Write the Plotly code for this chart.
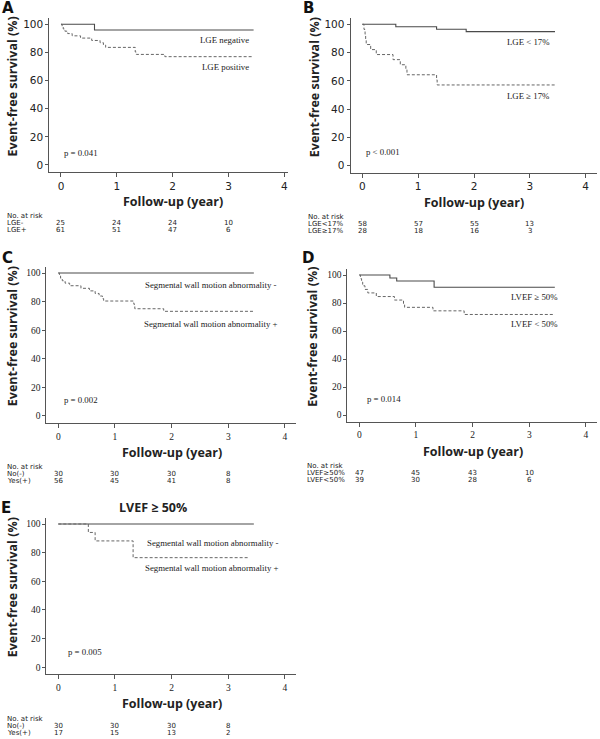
import plotly.graph_objects as go

W, H = 600, 739

# ---------------- data ----------------
years = [0, 1, 2, 3, 4]
yvals = [0, 20, 40, 60, 80, 100]

A_neg_t = [0, 0.6, 3.45]
A_neg_s = [100, 96, 96]
A_pos_t = [0, 0.02, 0.04, 0.07, 0.12, 0.2, 0.35, 0.55, 0.7, 0.76, 0.8, 1.33, 1.35, 1.86, 3.45]
A_pos_s = [100, 98.4, 96.7, 95.1, 93.4, 91.8, 90.2, 88.5, 86.9, 85.2, 83.6, 80.3, 78.6, 77.0, 77.0]

B_lo_t = [0, 0.6, 1.33, 1.86, 3.45]
B_lo_s = [100, 98.3, 96.5, 94.8, 94.8]
B_hi_t = [0, 0.03, 0.05, 0.06, 0.07, 0.15, 0.25, 0.55, 0.68, 0.78, 0.8, 1.33, 1.34, 3.45]
B_hi_s = [100, 96.4, 92.9, 89.3, 85.7, 82.1, 78.6, 75.0, 71.4, 67.9, 64.3, 60.7, 57.1, 57.1]

C_neg_t = [0, 3.45]
C_neg_s = [100, 100]
C_pos_t = [0, 0.02, 0.04, 0.07, 0.12, 0.2, 0.4, 0.55, 0.65, 0.72, 0.78, 0.8, 1.33, 1.34, 1.35, 1.86, 3.45]
C_pos_s = [100, 98.2, 96.4, 94.6, 92.9, 91.1, 89.3, 87.5, 85.7, 83.9, 82.1, 80.4, 78.6, 76.8, 75.0, 73.2, 73.2]

D_hi_t = [0, 0.54, 0.66, 1.32, 3.45]
D_hi_s = [100, 97.9, 95.7, 91.3, 91.3]
D_lo_t = [0, 0.02, 0.04, 0.06, 0.1, 0.15, 0.3, 0.62, 0.78, 0.8, 1.3, 1.85, 3.45]
D_lo_s = [100, 97.4, 94.9, 92.3, 89.7, 87.2, 84.6, 82.1, 79.5, 76.9, 74.4, 71.8, 71.8]

E_neg_t = [0, 3.45]
E_neg_s = [100, 100]
E_pos_t = [0, 0.53, 0.65, 1.32, 3.35]
E_pos_s = [100, 94.1, 88.2, 76.5, 76.5]

A_risk_labels = ["LGE-", "LGE+"]
A_risk = [[25, 24, 24, 10], [61, 51, 47, 6]]
B_risk_labels = ["LGE<17%", "LGE≥17%"]
B_risk = [[58, 57, 55, 13], [28, 18, 16, 3]]
C_risk_labels = ["No(-)", "Yes(+)"]
C_risk = [[30, 30, 30, 8], [56, 45, 41, 8]]
D_risk_labels = ["LVEF≥50%", "LVEF<50%"]
D_risk = [[47, 45, 43, 10], [39, 30, 28, 6]]
E_risk_labels = ["No(-)", "Yes(+)"]
E_risk = [[30, 30, 30, 8], [17, 15, 13, 2]]

# ---------------- layout helpers ----------------
SANS = "DejaVu Sans"
SERIF = "Liberation Serif"
BOLD = "Open Sans"
LINE = "#555555"

fig = go.Figure()
annotations = []

XMIN, YMIN, YMAX = -0.21, -5, 104.5


def px(x):
    return x / W


def py(y):
    return 1 - y / H


panels = [
    dict(name="A", x0=61, x4=284.3, y0=165, y100=24.3, xmax=4.06, tf=dict(family=SANS, size=10.5, color="#222"),
         curves=[(A_neg_t, A_neg_s, "solid"), (A_pos_t, A_pos_s, "dash")],
         labels=[("LGE negative", 251, 40, "right"), ("LGE positive", 251, 66.5, "right")],
         p=("p = 0.041", 62, 153),
         letter=(8, 8), ytitle_x=12.5,
         risk_labels=A_risk_labels, risk=A_risk, risk_x=6, risk_y=[216, 223, 230]),
    dict(name="B", x0=362.3, x4=585.7, y0=165.7, y100=24.3, xmax=4.2, tf=dict(family=SANS, size=10.5, color="#222"),
         curves=[(B_lo_t, B_lo_s, "solid"), (B_hi_t, B_hi_s, "dash")],
         labels=[("LGE < 17%", 551.7, 42.3, "right"), ("LGE ≥ 17%", 551.7, 95.7, "right")],
         p=("p < 0.001", 364, 151.7),
         letter=(308, 8), ytitle_x=314,
         risk_labels=B_risk_labels, risk=B_risk, risk_x=306.5, risk_y=[216.5, 223.5, 230.5]),
    dict(name="C", x0=58.3, x4=285, y0=416, y100=273, xmax=4.2, tf=dict(family=SERIF, size=9.5, color="#222"),
         curves=[(C_neg_t, C_neg_s, "solid"), (C_pos_t, C_pos_s, "dash")],
         labels=[("Segmental wall motion abnormality -", 142.7, 285, "left"),
                 ("Segmental wall motion abnormality +", 141.7, 324, "left")],
         p=("p = 0.002", 61.7, 400),
         letter=(7.5, 258), ytitle_x=12.5,
         risk_labels=C_risk_labels, risk=C_risk, risk_x=6, risk_y=[467, 474, 481]),
    dict(name="D", x0=359.3, x4=586, y0=415, y100=275, xmax=4.2, tf=dict(family=SERIF, size=9.5, color="#222"),
         curves=[(D_hi_t, D_hi_s, "solid"), (D_lo_t, D_lo_s, "dash")],
         labels=[("LVEF ≥ 50%", 560, 296.7, "right"), ("LVEF < 50%", 560, 324.3, "right")],
         p=("p = 0.014", 365, 399),
         letter=(308, 258), ytitle_x=312.5,
         risk_labels=D_risk_labels, risk=D_risk, risk_x=306, risk_y=[465.5, 472.5, 479.5]),
    dict(name="E", x0=58.3, x4=285, y0=667.3, y100=524, xmax=4.2, tf=dict(family=SERIF, size=9.5, color="#222"),
         curves=[(E_neg_t, E_neg_s, "solid"), (E_pos_t, E_pos_s, "dash")],
         labels=[("Segmental wall motion abnormality -", 145, 543.3, "left"),
                 ("Segmental wall motion abnormality +", 143.3, 568.3, "left")],
         p=("p = 0.005", 66, 651.7),
         letter=(6, 507.5), ytitle_x=12.5,
         risk_labels=E_risk_labels, risk=E_risk, risk_x=6, risk_y=[719, 726, 733]),
]

layout_axes = {}
for i, P in enumerate(panels):
    n = i + 1
    xs = "x" if n == 1 else f"x{n}"
    ys = "y" if n == 1 else f"y{n}"
    xk = "xaxis" if n == 1 else f"xaxis{n}"
    yk = "yaxis" if n == 1 else f"yaxis{n}"
    ppy = (P["x4"] - P["x0"]) / 4.0
    ppv = (P["y0"] - P["y100"]) / 100.0
    left = P["x0"] + XMIN * ppy
    right = P["x0"] + P["xmax"] * ppy
    bottom = P["y0"] - YMIN * ppv
    top = P["y0"] - YMAX * ppv
    layout_axes[xk] = dict(domain=[px(left), px(right)], range=[XMIN, P["xmax"]], anchor=ys,
                           tickvals=years, ticktext=[str(v) for v in years], ticks="outside", ticklen=4,
                           tickcolor=LINE, showline=True, linecolor=LINE, linewidth=1, showgrid=False,
                           zeroline=False, tickfont=P["tf"], fixedrange=True)
    layout_axes[yk] = dict(domain=[py(bottom), py(top)], range=[YMIN, YMAX], anchor=xs,
                           tickvals=yvals, ticktext=[str(v) for v in yvals], ticks="outside", ticklen=3,
                           tickcolor=LINE, showline=True, linecolor=LINE, linewidth=1, showgrid=False,
                           zeroline=False, tickfont=P["tf"], fixedrange=True)
    for t, s, dash in P["curves"]:
        fig.add_trace(go.Scatter(x=t, y=s, mode="lines", line_shape="hv", xaxis=xs, yaxis=ys,
                                 line=dict(color="#4a4a4a" if dash == "solid" else "#666666",
                                           width=1.1 if dash == "solid" else 1.0,
                                           dash="solid" if dash == "solid" else "3px,2px"),
                                 showlegend=False, hoverinfo="skip"))
    for txt, x, y, anchor in P["labels"]:
        annotations.append(dict(text=txt, x=px(x), y=py(y), xref="paper", yref="paper", showarrow=False,
                                xanchor=anchor, yanchor="middle",
                                font=dict(family=SERIF, size=8.8, color="#222")))
    txt, x, y = P["p"]
    annotations.append(dict(text=txt, x=px(x), y=py(y), xref="paper", yref="paper", showarrow=False,
                            xanchor="left", yanchor="middle", font=dict(family=SERIF, size=8.8, color="#222")))
    lx, ly = P["letter"]
    annotations.append(dict(text="<b>%s</b>" % P["name"], x=px(lx), y=py(ly), xref="paper", yref="paper",
                            showarrow=False, xanchor="center", yanchor="middle",
                            font=dict(family=SANS, size=15, color="#111")))
    ymid = P["y0"] - 55.5 * ppv
    annotations.append(dict(text="<b>Event-free survival (%)</b>", x=px(P["ytitle_x"]), y=py(ymid),
                            xref="paper", yref="paper", showarrow=False, textangle=-90,
                            xanchor="center", yanchor="middle", font=dict(family=BOLD, size=12.5, color="#222")))
    annotations.append(dict(text="<b>Follow-up (year)</b>", x=2.0, y=py(bottom + 29.5), xref=xs, yref="paper",
                            showarrow=False, xanchor="center", yanchor="middle",
                            font=dict(family=BOLD, size=12.5, color="#222")))
    rf = dict(family=SANS, size=7, color="#222")
    annotations.append(dict(text="No. at risk", x=px(P["risk_x"]), y=py(P["risk_y"][0]), xref="paper",
                            yref="paper", showarrow=False, xanchor="left", yanchor="middle", font=rf,
                            borderpad=0))
    for r, (lab, row) in enumerate(zip(P["risk_labels"], P["risk"])):
        yy = py(P["risk_y"][r + 1])
        annotations.append(dict(text=lab, x=px(P["risk_x"]), y=yy, xref="paper", yref="paper",
                                showarrow=False, xanchor="left", yanchor="middle", font=rf, borderpad=0))
        for c, v in enumerate(row):
            annotations.append(dict(text=str(v), x=years[c], y=yy, xref=xs, yref="paper",
                                    showarrow=False, xanchor="center", yanchor="middle", font=rf,
                                    borderpad=0))

annotations.append(dict(text="<b>LVEF ≥ 50%</b>", x=px(153), y=py(507), xref="paper", yref="paper",
                        showarrow=False, xanchor="center", yanchor="middle",
                        font=dict(family=BOLD, size=12.5, color="#222")))

fig.update_layout(width=W, height=H, margin=dict(l=0, r=0, t=0, b=0), paper_bgcolor="white",
                  plot_bgcolor="white", showlegend=False, annotations=annotations, **layout_axes)

fig.write_html("out.html", config={"displayModeBar": False},
               post_script="document.body.style.margin='0';document.body.style.overflow='hidden';")
